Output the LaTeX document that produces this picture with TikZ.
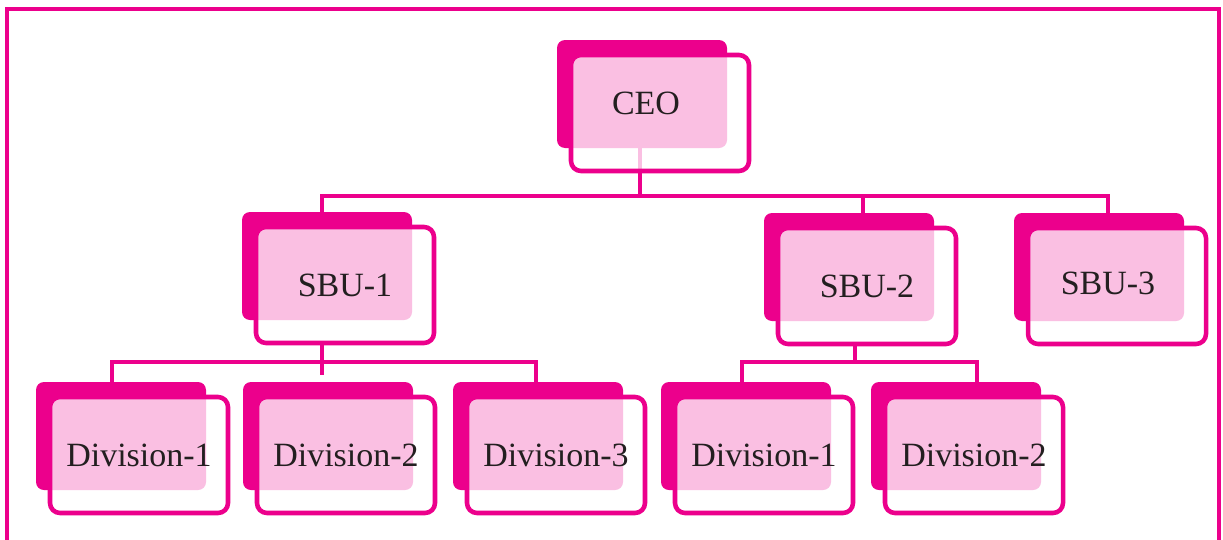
\documentclass[tikz,border=0pt]{standalone}
\usepackage{fontspec}
\setmainfont{Liberation Serif}
\usetikzlibrary{calc, backgrounds}

\definecolor{orgmagenta}{RGB}{236,0,140}
\definecolor{orgtext}{RGB}{35,31,32}

% one unit of the chart: solid back card, framed front card, label
\newcommand{\orgunit}[4][0,0]{%
  \node[unitback]  (#2-b) at (#3) {};
  \node[unitfront] (#2)   at ($(#2-b)+(18,19)$) {};
  \node[unitlabel] at ($(#2)+(#1)$) {#4};
}

\begin{document}
\begin{tikzpicture}[x=0.75pt, y=-0.75pt,
    unitback/.style={rectangle, fill=orgmagenta, rounded corners=6pt,
        minimum width=127.5pt, minimum height=81pt,
        inner sep=0pt, outer sep=0pt},
    unitfront/.style={rectangle, draw=orgmagenta, line width=3.4pt,
        rounded corners=7.5pt, fill=white, fill opacity=0.75,
        minimum width=133.5pt, minimum height=87pt,
        inner sep=0pt, outer sep=0pt},
    unitlabel/.style={text=orgtext, inner sep=0pt,
        font=\fontsize{25.5}{30}\selectfont},
    link/.style={draw=orgmagenta, line width=3.4pt}
]
\useasboundingbox (0,0) rectangle (1223,539);

% top level
\orgunit[-14,-10]{ceo}{642,94}{CEO}
% business units
\orgunit{sbu1}{327,266}{SBU-1}
\orgunit{sbu2}{849,267}{SBU-2}
\orgunit[-9,-3]{sbu3}{1099,267}{SBU-3}
% divisions
\orgunit{div11}{121,436}{Division-1}
\orgunit{div12}{328,436}{Division-2}
\orgunit{div13}{538,436}{Division-3}
\orgunit{div21}{746,436}{Division-1}
\orgunit{div22}{956,436}{Division-2}

% junctions of the tree lines
\coordinate (j-ceo)  at (640,196);
\coordinate (j-sbu1) at (322,196);
\coordinate (j-sbu2) at (863,196);
\coordinate (j-sbu3) at (1108,196);
\coordinate (j-div11) at (112,362);
\coordinate (j-div12) at (322,362);
\coordinate (j-div13) at (536,362);
\coordinate (j-div21) at (742,362);
\coordinate (j-mid2)  at (855,362);
\coordinate (j-div22) at (977,362);

\begin{pgfonlayer}{background}
% frame, open at the bottom
\draw[orgmagenta, line width=2.4pt] (7,545) -- (7,9) -- (1219,9) -- (1219,545);
% CEO down to the business units
\draw[link] (ceo-b.south -| j-ceo) -- (j-ceo);
\draw[link] (j-sbu1 |- sbu1-b.north) -- (j-sbu1) -- (j-sbu3)
    -- (j-sbu3 |- sbu3-b.north);
\draw[link] (j-sbu2) -- (j-sbu2 |- sbu2-b.north);
% SBU-1 down to its divisions
\draw[link] (sbu1.south -| j-div12) -- (j-div12) -- ++(0,13);
\draw[link] (j-div11 |- div11-b.north) -- (j-div11) -- (j-div13)
    -- (j-div13 |- div13-b.north);
% SBU-2 down to its divisions
\draw[link] (sbu2.south -| j-mid2) -- (j-mid2);
\draw[link] (j-div21 |- div21-b.north) -- (j-div21) -- (j-div22)
    -- (j-div22 |- div22-b.north);
\end{pgfonlayer}
\end{tikzpicture}
\end{document}
